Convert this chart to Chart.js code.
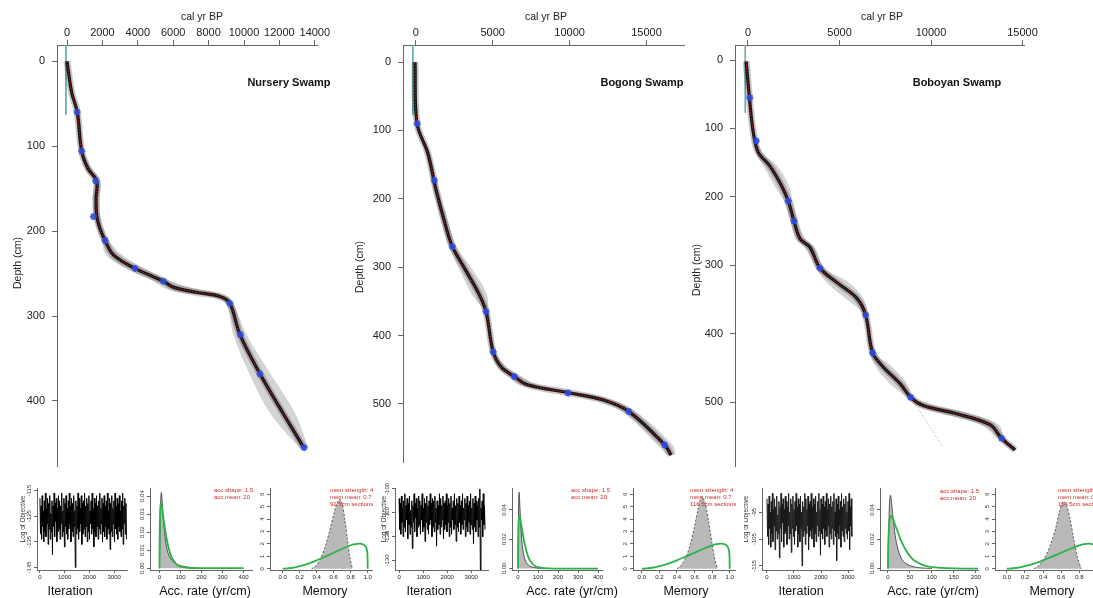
<!DOCTYPE html>
<html>
<head>
<meta charset="utf-8">
<script src="https://cdn.jsdelivr.net/npm/chart.js@4.4.0/dist/chart.umd.min.js"></script>
<style>
  html, body { margin: 0; padding: 0; background: #fff; }
  #fig { position: relative; width: 1093px; height: 598px; overflow: hidden; }
  #fig canvas { position: absolute; }
</style>
</head>
<body>
<div id="fig"></div>
<script>
// ---------- age-depth models (age in cal yr BP, depth in cm) ----------
const nurseryDepth  = [0, 37, 60, 106, 127, 141, 162, 182, 197, 211, 228, 244, 259, 266, 272, 277, 285, 322, 368, 415, 456];
const nurseryAge    = [0, 265, 580, 830, 1200, 1680, 1640, 1680, 1860, 2150, 2620, 3840, 5440, 6000, 7300, 8640, 9200, 9770, 10900, 12220, 13410];
const nurseryAgeMin = [-60, 180, 470, 720, 1030, 1480, 1450, 1500, 1700, 1960, 2200, 3300, 4900, 5400, 6300, 8000, 8950, 9400, 10300, 11500, 13150];
const nurseryAgeMax = [60, 360, 690, 950, 1420, 1880, 1850, 1880, 2080, 2380, 3100, 4400, 5900, 6900, 8300, 9050, 9400, 10150, 11500, 12900, 13650];
const nurseryDateDepth = [60, 106, 141, 183, 211, 244, 259, 285, 322, 368, 455];
const nurseryDateAge   = [570, 830, 1620, 1490, 2150, 3850, 5440, 9200, 9800, 10900, 13400];
const nurserySurfAge   = [-60, -60];
const nurserySurfDepth = [-19, 63];

const bogongDepth  = [0, 90, 133, 187, 240, 270, 304, 338, 365, 424, 446, 460, 472, 484, 494, 511, 560, 575];
const bogongAge    = [-50, 80, 780, 1320, 1950, 2380, 3230, 4080, 4570, 5030, 5560, 6410, 7260, 10020, 12150, 13840, 16180, 16600];
const bogongAgeMin = [-100, 0, 650, 1150, 1750, 2150, 2850, 3600, 4400, 4900, 5300, 6000, 6700, 9400, 11600, 13400, 15700, 16300];
const bogongAgeMax = [20, 180, 920, 1500, 2200, 2650, 3700, 4600, 4750, 5200, 5900, 6900, 7900, 10700, 12700, 14300, 16700, 16900];
const bogongDateDepth = [90, 173, 270, 365, 424, 460, 484, 511, 560];
const bogongDateAge   = [100, 1210, 2380, 4570, 5030, 6410, 9900, 13840, 16180];
const bogongSurfAge   = [-190, -190];
const bogongSurfDepth = [-25, 77];

const boboyanDepth  = [2, 53, 106, 135, 155, 184, 206, 235, 261, 274, 304, 325, 348, 373, 428, 449, 473, 493, 505, 517, 533, 553, 570];
const boboyanAge    = [-100, 70, 290, 560, 1200, 1840, 2200, 2510, 2840, 3390, 3930, 4850, 5940, 6430, 6810, 7400, 8310, 8890, 9580, 11400, 13220, 13860, 14590];
const boboyanAgeMin = [-150, 0, 220, 450, 850, 1450, 1950, 2300, 2600, 3100, 3700, 4300, 5300, 6300, 6650, 7000, 7750, 8700, 9200, 10600, 12700, 13650, 14400];
const boboyanAgeMax = [0, 150, 380, 800, 1600, 2250, 2450, 2750, 3100, 3650, 4200, 5500, 6300, 6550, 7000, 7900, 8700, 9050, 10200, 12200, 13700, 14050, 14750];
const boboyanDateDepth = [55, 118, 206, 235, 304, 373, 428, 493, 553];
const boboyanDateAge   = [100, 450, 2200, 2510, 3930, 6430, 6810, 8890, 13860];
const boboyanSurfAge   = [-150, -150];
const boboyanSurfDepth = [-22, 77];
const boboyanGuideAge   = [8890, 10670];
const boboyanGuideDepth = [493, 566];

const nurseryAgeTicks = [0, 2000, 4000, 6000, 8000, 10000, 12000, 14000];
const wideAgeTicks    = [0, 5000, 10000, 15000];
const depthTicks400   = [0, 100, 200, 300, 400];
const depthTicks500   = [0, 100, 200, 300, 400, 500];

// ---------- MCMC traces (log of objective, sampled along the run) ----------
const nurseryStep = 22, bogongStep = 24, boboyanStep = 20;
const nurseryTrace = [
  -118,-132,-121,-134,-117,-129,-123,-135,-119,-131,-116,-133,-122,-128,-118,-136,-120,-130,-117,-134,-124,-131,-119,-140,-121,-129,-116,-133,-120,-127,-118,-135,-122,-131,-117,-130,-119,-134,-121,-128,
  -116,-133,-123,-131,-118,-137,-120,-129,-117,-132,-122,-134,-119,-130,-116,-128,-121,-135,-118,-131,-120,-133,-117,-129,-123,-145,-119,-132,-121,-130,-116,-134,-118,-131,-122,-128,-117,-136,-120,-132,
  -119,-130,-116,-133,-121,-129,-118,-135,-120,-131,-117,-134,-123,-128,-119,-132,-116,-130,-122,-137,-118,-131,-120,-133,-117,-129,-121,-134,-119,-130,-116,-132,-122,-128,-118,-135,-120,-131,-117,-133,
  -121,-129,-119,-134,-116,-130,-123,-132,-118,-138,-120,-131,-117,-133,-122,-128,-119,-135,-116,-130,-121,-132,-118,-134,-120,-129,-117,-131,-123,-133,-119,-130,-116,-136,-121,-128,-118,-132,-120,-134];
const bogongTrace = [
  -104,-117,-106,-119,-103,-114,-108,-120,-105,-116,-102,-118,-107,-113,-104,-121,-106,-115,-103,-119,-109,-116,-105,-125,-107,-114,-102,-118,-106,-112,-104,-120,-108,-116,-103,-115,-105,-119,-107,-113,
  -102,-118,-108,-116,-104,-122,-106,-114,-103,-117,-107,-119,-105,-115,-102,-113,-106,-120,-104,-116,-105,-118,-103,-114,-108,-124,-105,-117,-107,-115,-102,-119,-104,-116,-107,-113,-103,-121,-106,-117,
  -105,-115,-102,-118,-107,-114,-104,-120,-106,-116,-103,-119,-108,-113,-105,-117,-102,-115,-107,-122,-104,-116,-106,-118,-103,-114,-107,-119,-105,-115,-102,-117,-108,-113,-104,-120,-106,-116,-103,-118,
  -107,-114,-105,-119,-102,-115,-108,-117,-104,-123,-106,-116,-103,-118,-105,-113,-107,-120,-104,-116,-100,-134,-108,-113,-105,-120,-102,-115,-107,-117];
const boboyanTrace = [
  -90,-104,-92,-107,-89,-101,-95,-108,-91,-103,-88,-106,-94,-100,-90,-109,-93,-102,-89,-105,-96,-103,-91,-112,-93,-101,-88,-106,-92,-99,-90,-108,-94,-103,-89,-102,-91,-107,-93,-100,
  -88,-105,-95,-103,-90,-110,-92,-101,-89,-104,-94,-107,-91,-102,-88,-100,-93,-108,-90,-103,-92,-106,-89,-101,-95,-115,-91,-104,-93,-102,-88,-107,-90,-103,-94,-100,-89,-109,-92,-104,
  -91,-102,-88,-105,-93,-101,-90,-108,-92,-103,-89,-106,-95,-100,-91,-104,-88,-102,-94,-111,-90,-103,-92,-105,-89,-101,-93,-107,-91,-102,-88,-104,-94,-100,-90,-108,-92,-103,-89,-105,
  -93,-101,-91,-107,-88,-102,-95,-104,-90,-113,-92,-103,-89,-105,-94,-100,-91,-108,-88,-102,-93,-104,-90,-106,-92,-101,-89,-103,-95,-105,-91,-102,-88,-109,-93,-100,-90,-104];

// ---------- accumulation rate: prior (green) and posterior (grey) ----------
const accPriorX = [0, 1, 3, 5, 7, 10, 15, 20, 30, 40, 50, 60, 80, 100, 150, 200, 300, 400];
const accPriorY = [0, 0.019, 0.031, 0.035, 0.036, 0.035, 0.031, 0.027, 0.019, 0.013, 0.0085, 0.0055, 0.0023, 0.0009, 0.0001, 0, 0, 0];
const nurseryAccX = [0, 3, 6, 9, 13, 18, 25, 35, 45, 60, 80, 100, 130, 160, 190];
const nurseryAccY = [0, 0.022, 0.038, 0.042, 0.037, 0.028, 0.019, 0.011, 0.007, 0.0042, 0.0024, 0.0014, 0.0007, 0.0003, 0];
const bogongAccX  = [0, 2, 4, 6, 9, 13, 18, 25, 35, 50, 70, 100, 130];
const bogongAccY  = [0, 0.03, 0.05, 0.052, 0.044, 0.032, 0.021, 0.012, 0.006, 0.0025, 0.001, 0.0003, 0];
const boboyanAccX = [0, 2, 4, 6, 9, 13, 18, 25, 35, 50, 70, 100];
const boboyanAccY = [0, 0.028, 0.047, 0.05, 0.043, 0.031, 0.02, 0.011, 0.005, 0.002, 0.0006, 0];

// ---------- memory: prior (green) and posterior (grey) ----------
const memPriorX = [0, 0.1, 0.2, 0.3, 0.4, 0.5, 0.6, 0.7, 0.8, 0.85, 0.9, 0.95, 0.98, 0.995, 1.0];
const memPriorY = [0, 0.06, 0.21, 0.42, 0.68, 0.98, 1.29, 1.61, 1.89, 1.98, 2.03, 1.95, 1.72, 1.3, 0];
const nurseryMemX = [0.34, 0.4, 0.45, 0.5, 0.55, 0.6, 0.64, 0.67, 0.7, 0.73, 0.76, 0.79, 0.82];
const nurseryMemY = [0, 0.3, 0.9, 1.8, 3.0, 4.4, 5.3, 5.6, 5.2, 4.0, 2.4, 0.9, 0];
const bogongMemX  = [0.4, 0.45, 0.5, 0.55, 0.6, 0.64, 0.68, 0.72, 0.76, 0.8, 0.83, 0.86];
const bogongMemY  = [0, 0.3, 0.9, 1.9, 3.4, 4.8, 5.8, 5.3, 3.8, 2.0, 0.8, 0];
const boboyanMemX = [0.3, 0.36, 0.42, 0.48, 0.54, 0.58, 0.62, 0.66, 0.7, 0.74, 0.78, 0.82];
const boboyanMemY = [0, 0.3, 0.9, 1.9, 3.3, 4.6, 5.4, 5.1, 3.9, 2.3, 0.9, 0];

const iterTicks  = [0, 1000, 2000, 3000];
const memTicksX  = [0, 0.2, 0.4, 0.6, 0.8, 1.0];
const memTicksY  = [0, 1, 2, 3, 4, 5, 6];

// ---------- helpers ----------
Chart.defaults.font.family = '"Liberation Sans", Arial, Helvetica, sans-serif';
Chart.defaults.color = '#222';

const FONT = '"Liberation Sans", Arial, sans-serif';

const notesPlugin = {
  id: 'notes',
  afterDraw(chart, args, opts) {
    const ctx = chart.ctx;
    (opts.items || []).forEach(n => {
      ctx.save();
      ctx.font = n.font || ('10px ' + FONT);
      ctx.fillStyle = n.color || '#222';
      ctx.textAlign = n.align || 'center';
      ctx.textBaseline = 'middle';
      ctx.translate(n.x - opts.ox, n.y - opts.oy);
      if (n.rotate) ctx.rotate(n.rotate);
      ctx.fillText(n.text, 0, 0);
      ctx.restore();
    });
  }
};

// y tick labels written parallel to the axis, like R does
const rotTicks = {
  id: 'rotTicks',
  afterDraw(chart, args, opts) {
    if (!opts.on) return;
    const s = chart.scales.y, ctx = chart.ctx;
    ctx.save();
    ctx.font = '6px ' + FONT;
    ctx.fillStyle = '#333';
    ctx.textAlign = 'center';
    ctx.textBaseline = 'bottom';
    s.ticks.forEach(t => {
      ctx.save();
      ctx.translate(s.right - 5, s.getPixelForValue(t.value));
      ctx.rotate(-Math.PI / 2);
      ctx.fillText(t.label, 0, 0);
      ctx.restore();
    });
    ctx.restore();
  }
};
Chart.register(notesPlugin, rotTicks);

function addChart(left, top, width, height, config) {
  const c = document.createElement('canvas');
  c.width = width; c.height = height;
  c.style.left = left + 'px'; c.style.top = top + 'px';
  document.getElementById('fig').appendChild(c);
  const o = config.options;
  o.responsive = false;
  o.animation = false;
  o.events = [];
  o.plugins = Object.assign({ legend: { display: false }, tooltip: { enabled: false } }, o.plugins);
  o.plugins.notes = Object.assign({ items: [] }, o.plugins.notes, { ox: left, oy: top });
  return new Chart(c, config);
}

function axisCfg(a) {
  return {
    type: 'linear', position: a.pos, min: a.min, max: a.max, reverse: !!a.reverse,
    afterBuildTicks: s => { s.ticks = a.ticks.map(v => ({ value: v })); },
    afterFit: s => { if (s.isHorizontal()) s.height = a.size; else s.width = a.size; },
    ticks: {
      display: a.showLabels !== false, autoSkip: false, maxRotation: 0,
      font: { size: a.fs || 11 }, color: '#222', padding: a.pad == null ? 3 : a.pad,
      callback: v => a.fmt ? a.fmt(v) : String(v)
    },
    grid: { drawOnChartArea: false, drawTicks: true, tickLength: a.tl || 5, color: '#666' },
    border: { display: true, color: '#666', width: 1 },
    title: { display: false }
  };
}

const pts = (xs, ys) => xs.map((x, i) => ({ x: x, y: ys[i] }));
const curve = (data, color, w, extra) => Object.assign(
  { data: data, borderColor: color, borderWidth: w, pointRadius: 0, fill: false, tension: 0.35 }, extra || {});

function agePanel(o) {
  const med = pts(o.age, o.depth);
  const datasets = [
    { data: pts(o.dAge, o.dDepth), showLine: false, pointStyle: 'star', pointRadius: 3.5,
      pointBorderColor: 'rgba(45,75,225,0.9)', pointBackgroundColor: 'rgba(45,75,225,0.9)', pointBorderWidth: 1.8 },
    curve(med, 'rgba(225,30,30,0.9)', 1, { borderDash: [1.5, 1.5] }),
    curve(med, 'rgba(0,0,0,0.88)', 3.2),
    curve(med, 'rgba(0,0,0,0.22)', 7),
    curve(pts(o.sAge, o.sDepth), '#62aeb0', 1, { tension: 0 })
  ];
  if (o.gAge) datasets.push(curve(pts(o.gAge, o.gDepth), 'rgba(0,0,0,0.5)', 0.7, { borderDash: [1, 2], tension: 0 }));
  // grey envelope between min and max ages, filled along the depth axis
  datasets.push(curve(pts(o.min, o.depth), 'rgba(0,0,0,0)', 0, { fill: '+1', backgroundColor: 'rgba(0,0,0,0.17)' }));
  datasets.push(curve(pts(o.max, o.depth), 'rgba(0,0,0,0)', 0));
  return addChart(o.left, 0, o.width, 480, {
    type: 'line',
    data: { datasets: datasets },
    options: {
      indexAxis: 'y',
      layout: { padding: { left: 0, top: 0, right: o.padR, bottom: o.padB } },
      scales: {
        x: axisCfg({ pos: 'top', min: o.xMin, max: o.xMax, ticks: o.xTicks, size: 45, pad: 0 }),
        y: axisCfg({ pos: 'left', min: o.yMin, max: o.yMax, ticks: o.yTicks, size: o.yW, pad: 7, reverse: true })
      },
      plugins: { notes: { items: [
        { text: 'cal yr BP', x: o.xTitle, y: 17, font: '10.5px ' + FONT },
        { text: 'Depth (cm)', x: o.yTitle[0], y: o.yTitle[1], rotate: -Math.PI / 2, font: '10.5px ' + FONT },
        { text: o.name, x: o.nameX, y: 83, font: 'bold 11px ' + FONT, color: '#111' }
      ] } }
    }
  });
}

function smallPanel(o) {
  const axisW = 18, extra = 30;
  const left = o.l - axisW;
  return addChart(left, 478, o.r - o.l + axisW + extra, 120, {
    type: 'line',
    data: { datasets: o.datasets },
    options: {
      layout: { padding: { left: 0, top: 10, right: extra, bottom: 0 } },
      scales: {
        x: axisCfg({ pos: 'bottom', min: o.xMin, max: o.xMax, ticks: o.xTicks, size: 28, fs: 6, tl: 3, pad: 1, fmt: o.xFmt }),
        y: axisCfg({ pos: 'left', min: o.yMin, max: o.yMax, ticks: o.yTicks, size: axisW, tl: 3, showLabels: false, fmt: o.yFmt })
      },
      plugins: { rotTicks: { on: true }, notes: { items: o.notes } }
    }
  });
}

const traceSet = (t, step, color) => ({ data: t.map((v, i) => ({ x: i * step, y: v })), borderColor: color, borderWidth: 1, pointRadius: 0, tension: 0, fill: false });
const priorSet = (xs, ys) => ({ data: pts(xs, ys), borderColor: '#2bb34a', borderWidth: 1.8, pointRadius: 0, tension: 0.3, fill: false });
const postSet = (xs, ys, dash) => ({ data: pts(xs, ys), borderColor: '#333', borderWidth: 0.8, borderDash: dash ? [2, 2] : [],
  backgroundColor: '#b9b9b9', fill: 'origin', pointRadius: 0, tension: 0.3 });
const red = (text, x, y) => ({ text: text, x: x, y: y, font: '6px ' + FONT, color: '#d02a2a', align: 'left' });
const caption = (text, x) => ({ text: text, x: x, y: 592, font: '12.5px ' + FONT, color: '#111' });
const yLab = (x) => ({ text: 'Log of Objective', x: x, y: 519, rotate: -Math.PI / 2, font: '6.5px ' + FONT, color: '#333' });
const fmtInt = v => String(v);
const fmt2 = v => v.toFixed(2);
const fmt1 = v => v.toFixed(1);

// ---------- main panels ----------
agePanel({ left: 0, width: 340, padR: 23, padB: 10, yW: 57,
  xMin: -565, xMax: 14124, xTicks: nurseryAgeTicks, yMin: -19, yMax: 477, yTicks: depthTicks400,
  depth: nurseryDepth, age: nurseryAge, min: nurseryAgeMin, max: nurseryAgeMax,
  dDepth: nurseryDateDepth, dAge: nurseryDateAge, sAge: nurserySurfAge, sDepth: nurserySurfDepth,
  xTitle: 202, yTitle: [18, 263], name: 'Nursery Swamp', nameX: 289 });

agePanel({ left: 345, width: 345, padR: 0, padB: 18, yW: 58,
  xMin: -830, xMax: 17450, xTicks: wideAgeTicks, yMin: -25, yMax: 585, yTicks: depthTicks500,
  depth: bogongDepth, age: bogongAge, min: bogongAgeMin, max: bogongAgeMax,
  dDepth: bogongDateDepth, dAge: bogongDateAge, sAge: bogongSurfAge, sDepth: bogongSurfDepth,
  xTitle: 546, yTitle: [360, 267], name: 'Bogong Swamp', nameX: 642 });

agePanel({ left: 690, width: 403, padR: 69, padB: 10, yW: 45,
  xMin: -710, xMax: 15080, xTicks: wideAgeTicks, yMin: -22, yMax: 594, yTicks: depthTicks500,
  depth: boboyanDepth, age: boboyanAge, min: boboyanAgeMin, max: boboyanAgeMax,
  dDepth: boboyanDateDepth, dAge: boboyanDateAge, sAge: boboyanSurfAge, sDepth: boboyanSurfDepth,
  gAge: boboyanGuideAge, gDepth: boboyanGuideDepth,
  xTitle: 882, yTitle: [697, 270], name: 'Boboyan Swamp', nameX: 957 });

// ---------- Nursery diagnostics ----------
smallPanel({ l: 37, r: 127, xMin: -120, xMax: 3520, xTicks: iterTicks, yMin: -146, yMax: -114, yTicks: [-145, -135, -125, -115],
  xFmt: fmtInt, yFmt: fmtInt, datasets: [traceSet(nurseryTrace, nurseryStep, '#000')],
  notes: [caption('Iteration', 70), yLab(23)] });
smallPanel({ l: 150, r: 252, xMin: -45, xMax: 440, xTicks: [0, 100, 200, 300, 400], yMin: -0.001, yMax: 0.0445, yTicks: [0, 0.01, 0.02, 0.03, 0.04],
  xFmt: fmtInt, yFmt: fmt2, datasets: [priorSet(accPriorX, accPriorY), postSet(nurseryAccX, nurseryAccY)],
  notes: [caption('Acc. rate (yr/cm)', 205), red('acc.shape: 1.5', 214, 490), red('acc.mean: 20', 214, 497)] });
smallPanel({ l: 270, r: 372, xMin: -0.15, xMax: 1.05, xTicks: memTicksX, yMin: -0.1, yMax: 6.5, yTicks: memTicksY,
  xFmt: fmt1, yFmt: fmtInt, datasets: [priorSet(memPriorX, memPriorY), postSet(nurseryMemX, nurseryMemY, true)],
  notes: [caption('Memory', 325), red('mem.strength: 4', 330, 490), red('mem.mean: 0.7', 330, 497), red('92 5cm sections', 330, 504)] });

// ---------- Bogong diagnostics ----------
smallPanel({ l: 395, r: 488, xMin: -170, xMax: 3700, xTicks: iterTicks, yMin: -134, yMax: -99.6, yTicks: [-130, -120, -110, -100],
  xFmt: fmtInt, yFmt: fmtInt, datasets: [traceSet(bogongTrace, bogongStep, '#000')],
  notes: [caption('Iteration', 429), yLab(384)] });
smallPanel({ l: 512, r: 602, xMin: -30, xMax: 420, xTicks: [0, 100, 200, 300, 400], yMin: -0.001, yMax: 0.055, yTicks: [0, 0.02, 0.04],
  xFmt: fmtInt, yFmt: fmt2, datasets: [priorSet(accPriorX, accPriorY), postSet(bogongAccX, bogongAccY)],
  notes: [caption('Acc. rate (yr/cm)', 572), red('acc.shape: 1.5', 571, 490), red('acc.mean: 20', 571, 497)] });
smallPanel({ l: 633, r: 735, xMin: -0.1, xMax: 1.06, xTicks: memTicksX, yMin: -0.1, yMax: 6.5, yTicks: memTicksY,
  xFmt: fmt1, yFmt: fmtInt, datasets: [priorSet(memPriorX, memPriorY), postSet(bogongMemX, bogongMemY, true)],
  notes: [caption('Memory', 686), red('mem.strength: 4', 690, 490), red('mem.mean: 0.7', 690, 497), red('116 5cm sections', 690, 504)] });

// ---------- Boboyan diagnostics ----------
smallPanel({ l: 762, r: 853, xMin: -185, xMax: 3185, xTicks: iterTicks, yMin: -116.5, yMax: -86, yTicks: [-115, -105, -95],
  xFmt: fmtInt, yFmt: fmtInt, datasets: [traceSet(boboyanTrace, boboyanStep, '#1a1a1a')],
  notes: [caption('Iteration', 801), yLab(746)] });
smallPanel({ l: 880, r: 978, xMin: -18, xMax: 205, xTicks: [0, 50, 100, 150, 200], yMin: -0.001, yMax: 0.055, yTicks: [0, 0.02, 0.04],
  xFmt: fmtInt, yFmt: fmt2, datasets: [priorSet(accPriorX, accPriorY), postSet(boboyanAccX, boboyanAccY)],
  notes: [caption('Acc. rate (yr/cm)', 933), red('acc.shape: 1.5', 940, 491), red('acc.mean: 20', 940, 498)] });
smallPanel({ l: 995, r: 1093, xMin: -0.13, xMax: 0.95, xTicks: [0, 0.2, 0.4, 0.6, 0.8], yMin: -0.1, yMax: 6.5, yTicks: memTicksY,
  xFmt: fmt1, yFmt: fmtInt, datasets: [priorSet(memPriorX, memPriorY), postSet(boboyanMemX, boboyanMemY, true)],
  notes: [caption('Memory', 1052), red('mem.strength: 4', 1058, 490), red('mem.mean: 0.7', 1058, 497), red('114 5cm sections', 1058, 504)] });
</script>
</body>
</html>
